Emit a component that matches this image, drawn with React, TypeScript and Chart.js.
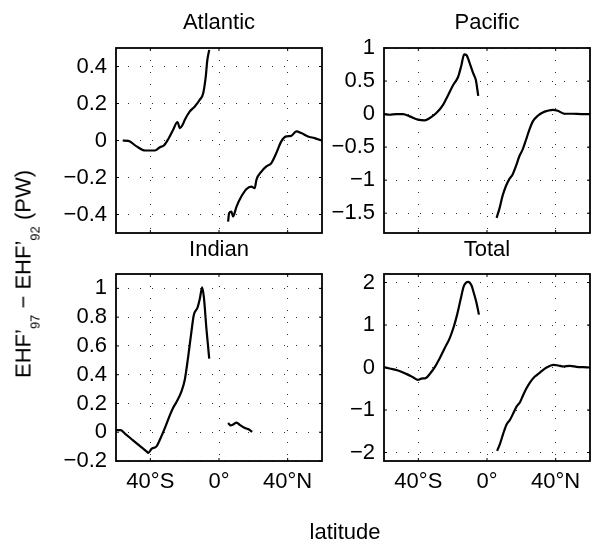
import React, { useEffect, useRef } from 'react';
import { Chart, registerables } from 'chart.js';

Chart.register(...registerables);

const FONT = '"Liberation Sans", Arial, Helvetica, sans-serif';
const FS = 22;

// x axis (latitude)
const xTicks = [-40, 0, 40];
const xTickLabels = ['40°S', '0°', '40°N'];

// Atlantic
const atlanticSouthLat = [-56.1, -52.8, -48, -43.1, -37.3, -34.4, -32.1, -29.6, -26.7, -24.2, -22.8, -21.2, -19.9, -17, -14.1, -11.2, -9.2, -7.7, -6.9, -5.7];
const atlanticSouthFlux = [0, -0.002, -0.032, -0.054, -0.054, -0.036, -0.027, 0.007, 0.058, 0.1, 0.067, 0.085, 0.112, 0.157, 0.184, 0.22, 0.256, 0.346, 0.427, 0.49];
const atlanticNorthLat = [5.3, 5.9, 7.2, 8.2, 10.2, 13, 15.9, 18.8, 20.8, 21.8, 24.7, 27.6, 30.5, 33.4, 36.3, 39.2, 42.1, 45, 48, 51.8, 55.7, 60];
const atlanticNorthFlux = [-0.438, -0.393, -0.384, -0.41, -0.357, -0.303, -0.263, -0.249, -0.258, -0.213, -0.168, -0.14, -0.122, -0.068, -0.005, 0.022, 0.025, 0.049, 0.04, 0.022, 0.013, 0];
const atlanticYTicks = [-0.4, -0.2, 0, 0.2, 0.4];

// Pacific
const pacificSouthLat = [-60, -56.7, -52.8, -48.9, -45, -40.2, -36.3, -33.3, -29.5, -25.6, -22.6, -19.7, -16.8, -14.9, -13.3, -11.9, -10, -8, -6.5, -5.1];
const pacificSouthFlux = [0, -0.01, 0, 0, -0.035, -0.085, -0.095, -0.06, 0.015, 0.14, 0.29, 0.44, 0.565, 0.74, 0.905, 0.89, 0.765, 0.615, 0.515, 0.275];
const pacificNorthLat = [5.6, 7.2, 9.1, 11.1, 13, 15, 16.9, 18.9, 20.8, 22.8, 24.7, 26.7, 29.6, 32.5, 35.4, 38.3, 41.2, 45.1, 50, 54.8, 60];
const pacificNorthFlux = [-1.57, -1.435, -1.235, -1.085, -0.985, -0.91, -0.785, -0.635, -0.535, -0.385, -0.235, -0.11, -0.025, 0.025, 0.05, 0.065, 0.05, 0.005, 0.005, 0, 0];
const pacificYTicks = [-1.5, -1, -0.5, 0, 0.5, 1];

// Indian
const indianSouthLat = [-60, -57.3, -54.8, -49.9, -45.1, -42.2, -41.2, -39.3, -36.4, -34.4, -31.5, -28.6, -26.7, -24.7, -21.8, -19.9, -17.9, -16, -14.7, -12.5, -11.2, -9.8, -8.8, -7.3, -5.7];
const indianSouthFlux = [0.014, 0.014, -0.009, -0.058, -0.105, -0.133, -0.144, -0.116, -0.098, -0.051, 0.03, 0.119, 0.17, 0.212, 0.286, 0.367, 0.53, 0.705, 0.814, 0.867, 0.926, 1.007, 0.937, 0.716, 0.512];
const indianNorthLat = [5.3, 6.7, 8.2, 10.2, 12.1, 14, 16, 17.5, 19.3];
const indianNorthFlux = [0.065, 0.047, 0.053, 0.067, 0.051, 0.037, 0.026, 0.019, 0.002];
const indianYTicks = [-0.2, 0, 0.2, 0.4, 0.6, 0.8, 1];

// Total
const totalSouthLat = [-60, -56.7, -51.8, -47, -43.1, -40.2, -38.2, -35.7, -33, -30.4, -27.5, -24.6, -21.7, -19.4, -17.4, -15.4, -13.5, -11, -9, -7.7, -6.1, -4.7];
const totalSouthFlux = [0.008, -0.024, -0.07, -0.15, -0.228, -0.29, -0.26, -0.25, -0.134, 0.008, 0.22, 0.457, 0.693, 0.953, 1.244, 1.598, 1.913, 2.016, 1.929, 1.756, 1.52, 1.244];
const totalNorthLat = [5.9, 7.5, 9.5, 11.4, 13.3, 15.3, 17.2, 19.2, 21.1, 23, 25.4, 27.9, 30.8, 34.7, 38.6, 41.5, 44.5, 48.4, 52.2, 56.1, 60];
const totalNorthFlux = [-1.96, -1.803, -1.551, -1.339, -1.236, -1.079, -0.921, -0.819, -0.646, -0.488, -0.331, -0.213, -0.118, 0, 0.063, 0.047, 0.024, 0.039, 0.016, 0.008, 0];
const totalYTicks = [-2, -1, 0, 1, 2];

const fmt = (v: number) => (v < 0 ? '\u2212' + String(Math.abs(v)) : String(v));

type PanelProps = {
  title: string;
  left: number;
  top: number;
  plotW: number;
  plotH: number;
  yMin: number;
  yMax: number;
  yTicks: number[];
  showX: boolean;
  titlePadTop: number;
  segments: [number[], number[]][];
};

const Y_AXIS_W = 80;
const TITLE_H = 40;
const X_AXIS_H = 45;
const RIGHT_PAD = 4;

const framePlugin = {
  id: 'matlabFrame',
  afterDraw(chart: any) {
    const { ctx, chartArea, scales } = chart;
    const { left, top, right, bottom } = chartArea;
    const xs = scales.x;
    const ys = scales.y;
    ctx.save();
    ctx.strokeStyle = '#000';
    ctx.lineWidth = 1;
    const tl = 3;
    ctx.beginPath();
    xs.ticks.forEach((t: any) => {
      const px = xs.getPixelForValue(t.value);
      ctx.moveTo(px, bottom);
      ctx.lineTo(px, bottom - tl);
      ctx.moveTo(px, top);
      ctx.lineTo(px, top + tl);
    });
    ys.ticks.forEach((t: any) => {
      const py = ys.getPixelForValue(t.value);
      ctx.moveTo(left, py);
      ctx.lineTo(left + tl, py);
      ctx.moveTo(right, py);
      ctx.lineTo(right - tl, py);
    });
    ctx.stroke();
    ctx.lineWidth = 1.8;
    ctx.strokeRect(left, top, right - left, bottom - top);
    ctx.restore();
  },
};

function Panel(props: PanelProps) {
  const ref = useRef<HTMLCanvasElement | null>(null);
  const { title, left, top, plotW, plotH, yMin, yMax, yTicks, showX, titlePadTop, segments } = props;
  const cw = Y_AXIS_W + plotW + RIGHT_PAD;
  const chh = TITLE_H + plotH + X_AXIS_H;

  useEffect(() => {
    if (!ref.current) return;
    const chart = new Chart(ref.current, {
      type: 'line',
      data: {
        datasets: segments.map(([lat, val]) => ({
          data: lat.map((x, i) => ({ x, y: val[i] })),
          borderColor: '#000',
          borderWidth: 2.2,
          pointRadius: 0,
          fill: false,
          cubicInterpolationMode: 'monotone' as const,
        })),
      },
      options: {
        animation: false,
        responsive: false,
        events: [],
        layout: { padding: { left: 0, top: 0, right: RIGHT_PAD, bottom: 0 } },
        plugins: {
          legend: { display: false },
          tooltip: { enabled: false },
          title: {
            display: true,
            text: title,
            fullSize: false,
            color: '#000',
            font: { size: FS, family: FONT, weight: 'normal', lineHeight: 1 },
            padding: { top: titlePadTop, bottom: TITLE_H - FS - titlePadTop },
          },
        },
        scales: {
          x: {
            type: 'linear',
            min: -60,
            max: 60,
            afterBuildTicks: (s: any) => {
              s.ticks = xTicks.map((value) => ({ value }));
            },
            afterFit: (s: any) => {
              s.height = X_AXIS_H;
            },
            ticks: {
              display: showX,
              padding: 8,
              color: '#000',
              autoSkip: false,
              maxRotation: 0,
              font: { size: FS, family: FONT },
              callback: (_v: any, i: number) => xTickLabels[i],
            },
            grid: { color: '#333', lineWidth: 1, drawTicks: false },
            border: { display: false, dash: [1, 11] },
          },
          y: {
            type: 'linear',
            min: yMin,
            max: yMax,
            afterBuildTicks: (s: any) => {
              s.ticks = yTicks.map((value) => ({ value }));
            },
            afterFit: (s: any) => {
              s.width = Y_AXIS_W;
            },
            ticks: {
              padding: 9,
              color: '#000',
              autoSkip: false,
              font: { size: FS, family: FONT },
              callback: (_v: any, i: number) => fmt(yTicks[i]),
            },
            grid: { color: '#333', lineWidth: 1, drawTicks: false },
            border: { display: false, dash: [1, 11] },
          },
        },
      } as any,
      plugins: [framePlugin],
    });
    return () => chart.destroy();
  }, []);

  return (
    <canvas
      ref={ref}
      width={cw}
      height={chh}
      style={{
        position: 'absolute',
        left: left - Y_AXIS_W,
        top: top - TITLE_H,
        width: cw,
        height: chh,
      }}
    />
  );
}

const subStyle: React.CSSProperties = { fontSize: 13, position: 'relative', top: 9 };

export default function App() {
  return (
    <div
      style={{
        position: 'absolute',
        left: 0,
        top: 0,
        width: 593,
        height: 541,
        background: '#fff',
        overflow: 'hidden',
        fontFamily: FONT,
        color: '#000',
      }}
    >
      <Panel
        title="Atlantic"
        left={116}
        top={48}
        plotW={206}
        plotH={185}
        yMin={-0.5}
        yMax={0.5}
        yTicks={atlanticYTicks}
        showX={false}
        titlePadTop={3.5}
        segments={[
          [atlanticSouthLat, atlanticSouthFlux],
          [atlanticNorthLat, atlanticNorthFlux],
        ]}
      />
      <Panel
        title="Pacific"
        left={384}
        top={48}
        plotW={206}
        plotH={185}
        yMin={-1.8}
        yMax={1}
        yTicks={pacificYTicks}
        showX={false}
        titlePadTop={3.5}
        segments={[
          [pacificSouthLat, pacificSouthFlux],
          [pacificNorthLat, pacificNorthFlux],
        ]}
      />
      <Panel
        title="Indian"
        left={116}
        top={274}
        plotW={206}
        plotH={187}
        yMin={-0.2}
        yMax={1.1}
        yTicks={indianYTicks}
        showX={true}
        titlePadTop={5}
        segments={[
          [indianSouthLat, indianSouthFlux],
          [indianNorthLat, indianNorthFlux],
        ]}
      />
      <Panel
        title="Total"
        left={384}
        top={274}
        plotW={206}
        plotH={187}
        yMin={-2.2}
        yMax={2.2}
        yTicks={totalYTicks}
        showX={true}
        titlePadTop={5}
        segments={[
          [totalSouthLat, totalSouthFlux],
          [totalNorthLat, totalNorthFlux],
        ]}
      />
      <div
        style={{
          position: 'absolute',
          left: 25.4,
          top: 274,
          transform: 'translate(-50%, -50%) rotate(-90deg)',
          whiteSpace: 'nowrap',
          fontSize: FS,
          lineHeight: '22px',
        }}
      >
        EHF’<span style={subStyle}>97</span> − EHF’<span style={subStyle}>92</span> (PW)
      </div>
      <div
        style={{
          position: 'absolute',
          left: 345,
          top: 521.4,
          transform: 'translateX(-50%)',
          whiteSpace: 'nowrap',
          fontSize: FS,
          lineHeight: '22px',
        }}
      >
        latitude
      </div>
    </div>
  );
}
